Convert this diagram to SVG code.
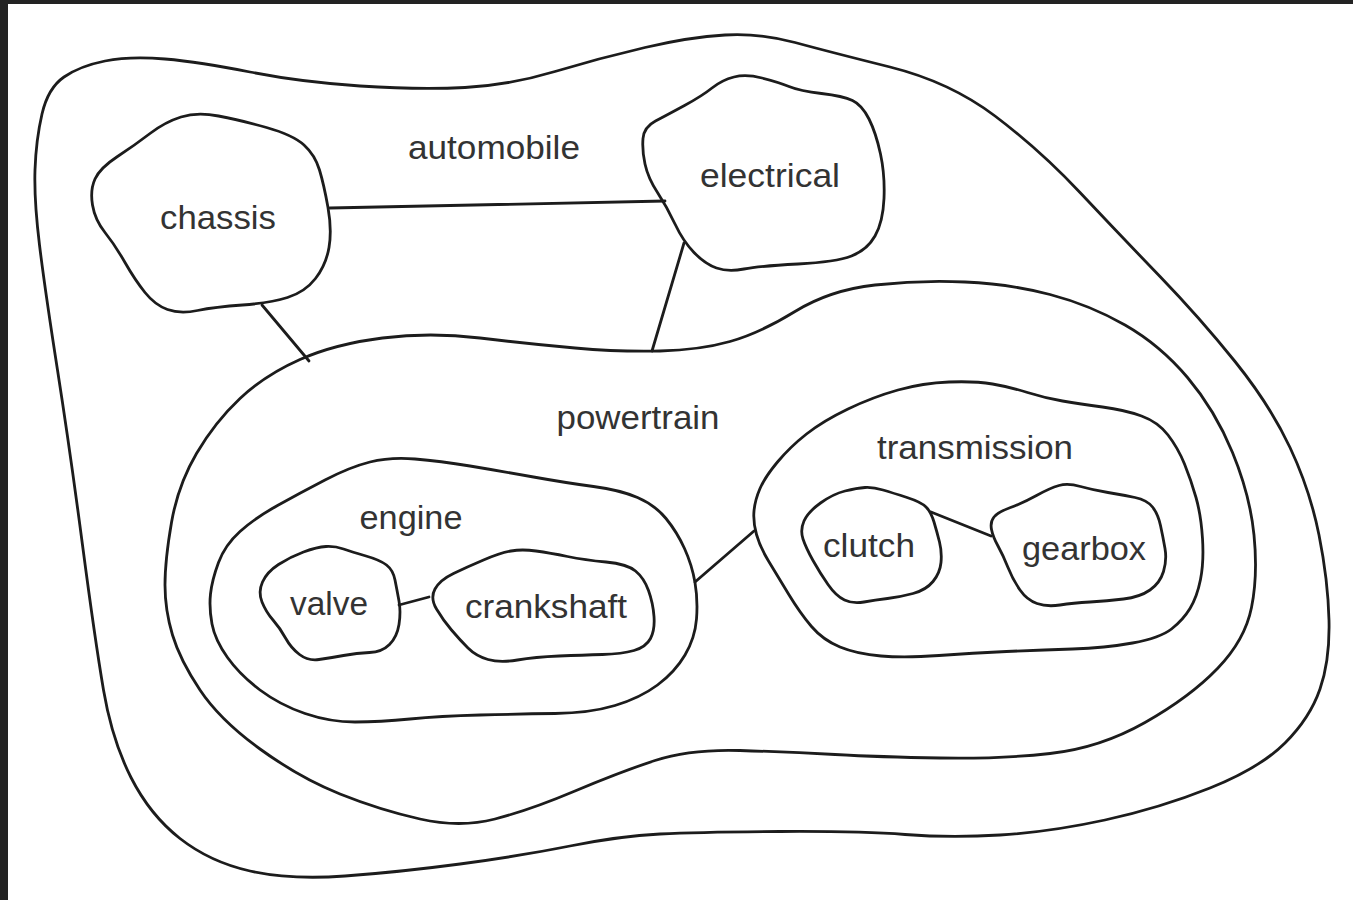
<svg xmlns="http://www.w3.org/2000/svg" width="1353" height="900" viewBox="0 0 1353 900">
  <style>
    .outline { fill: none; stroke: #1c1c1c; stroke-width: 2.8; stroke-linejoin: round; }
    .link { fill: none; stroke: #1c1c1c; stroke-width: 2.8; stroke-linecap: round; }
    .label { font-family: "Liberation Sans", Arial, Helvetica, sans-serif; font-size: 33px; fill: #333333; text-anchor: middle; }
    .frame { fill: #232323; }
  </style>

  <rect x="0" y="0" width="1353" height="900" fill="#ffffff"/>
  <!-- dark frame edges -->
  <rect class="frame" x="0" y="0" width="1353" height="4"/>
  <rect class="frame" x="0" y="0" width="8" height="900"/>

  <!-- automobile: outermost region -->
  <g id="automobile">
    <path class="outline" d="M 35,170 Q 36,140 42,114 Q 48,88 64,77 Q 80,66 105,61 Q 130,56 165,59 Q 200,62 250,72 Q 300,82 360,86 Q 420,90 465,87.5 Q 510,85 555,71.5 Q 600,58 645,47.5 Q 690,37 725,35 Q 760,33 795,42.5 Q 830,52 890,67 Q 950,82 995,116 Q 1040,150 1080,192.5 Q 1120,235 1160,276.5 Q 1200,318 1235,361.5 Q 1270,405 1290,447.5 Q 1310,490 1319,535 Q 1328,580 1329,620 Q 1330,660 1320,689 Q 1310,718 1285,743 Q 1260,768 1210,788 Q 1160,808 1105,820 Q 1050,832 1000,835 Q 950,838 905,834.5 Q 860,831 780,831.5 Q 700,832 660,834 Q 620,836 570,846 Q 520,856 460,864 Q 400,872 345,876 Q 290,880 250,871 Q 210,862 180,838.5 Q 150,815 131,777.5 Q 112,740 103.5,690 Q 95,640 82.5,545 Q 70,450 57.5,370 Q 45,290 39.5,245 Q 34,200 35,170 Z"/>
    <text class="label" x="494" y="159" textLength="172" lengthAdjust="spacingAndGlyphs">automobile</text>
  </g>

  <!-- connectors -->
  <g id="connectors">
    <line class="link" x1="330" y1="208" x2="665" y2="201"/>
    <line class="link" x1="262" y1="305" x2="309" y2="361"/>
    <line class="link" x1="684" y1="243" x2="652" y2="351"/>
    <line class="link" x1="399" y1="605" x2="429" y2="597"/>
    <line class="link" x1="695" y1="582" x2="754" y2="531"/>
    <line class="link" x1="931" y1="512" x2="991" y2="536"/>
  </g>

  <g id="chassis">
    <path class="outline" d="M 181,117 Q 197,112 218.5,116 Q 240,120 266.5,127.5 Q 293,135 304,145 Q 315,155 319.5,170 Q 324,185 328,207.5 Q 332,230 329,247.5 Q 326,265 315.5,278.5 Q 305,292 287.5,297.5 Q 270,303 242.5,305 Q 215,307 197.5,310.5 Q 180,314 167.5,309.5 Q 155,305 145,292.5 Q 135,280 125,262.5 Q 115,245 105,232.5 Q 95,220 92.5,205 Q 90,190 95,179 Q 100,168 117.5,156.5 Q 135,145 150,133.5 Q 165,122 181,117 Z"/>
    <text class="label" x="218" y="229" textLength="116" lengthAdjust="spacingAndGlyphs">chassis</text>
  </g>

  <g id="electrical">
    <path class="outline" d="M 643,138.5 Q 644,127 655.5,121 Q 667,115 684.5,105.5 Q 702,96 712,88 Q 722,80 734,77 Q 746,74 762,78 Q 778,82 789,86.5 Q 800,91 821.5,93.5 Q 843,96 852.5,100.5 Q 862,105 869,119 Q 876,133 880.5,154 Q 885,175 884,198.5 Q 883,222 875,236 Q 867,250 851.5,256 Q 836,262 798,264 Q 760,266 744,269 Q 728,272 716.5,268 Q 705,264 694,252.5 Q 683,241 675,224 Q 667,207 657.5,192.5 Q 648,178 645,164 Q 642,150 643,138.5 Z"/>
    <text class="label" x="770" y="187" textLength="140" lengthAdjust="spacingAndGlyphs">electrical</text>
  </g>

  <g id="powertrain">
    <path class="outline" d="M 165,585 Q 165,560 171.5,522.5 Q 178,485 196.5,453.5 Q 215,422 240,398.5 Q 265,375 300,359.5 Q 335,344 382.5,338 Q 430,332 480,338 Q 530,344 575,348 Q 620,352 660,351 Q 700,350 730,341.5 Q 760,333 795,311.5 Q 830,290 875,285 Q 920,280 965,282 Q 1010,284 1050,294.5 Q 1090,305 1125,325 Q 1160,345 1187.5,377.5 Q 1215,410 1232.5,452.5 Q 1250,495 1254,535 Q 1258,575 1251.5,607.5 Q 1245,640 1217.5,668.5 Q 1190,697 1145,722.5 Q 1100,748 1050,753.5 Q 1000,759 940,758 Q 880,757 835,754.5 Q 790,752 740,750.5 Q 690,749 655,760.5 Q 620,772 575,791 Q 530,810 495,819 Q 460,828 420,819 Q 380,810 340,794 Q 300,778 260,749 Q 220,720 200,690 Q 180,660 172.5,635 Q 165,610 165,585 Z"/>
    <text class="label" x="638" y="429" textLength="163" lengthAdjust="spacingAndGlyphs">powertrain</text>
  </g>

  <g id="engine">
    <path class="outline" d="M 210.5,594 Q 212,580 218.5,562.5 Q 225,545 240,531.5 Q 255,518 277.5,505.5 Q 300,493 325,480 Q 350,467 370,462 Q 390,457 415,459 Q 440,461 470,466 Q 500,471 533.5,477 Q 567,483 593.5,486.5 Q 620,490 637.5,497.5 Q 655,505 666,518.5 Q 677,532 684.5,548.5 Q 692,565 695,582.5 Q 698,600 696.5,619 Q 695,638 685,655 Q 675,672 657.5,685 Q 640,698 615,705.5 Q 590,713 555,713.5 Q 520,714 480,715 Q 440,716 410,719 Q 380,722 355,722 Q 330,722 305,713.5 Q 280,705 260,690 Q 240,675 227.5,657.5 Q 215,640 212,624 Q 209,608 210.5,594 Z"/>
    <text class="label" x="411" y="529" textLength="103" lengthAdjust="spacingAndGlyphs">engine</text>
  </g>

  <g id="valve">
    <path class="outline" d="M 326,546.5 Q 317,547 303.5,552 Q 290,557 278.5,564.5 Q 267,572 262.5,582 Q 258,592 262,602 Q 266,612 273,620 Q 280,628 285.5,638 Q 291,648 299.5,654.5 Q 308,661 319,659.5 Q 330,658 343.5,655.5 Q 357,653 369.5,652.5 Q 382,652 389.5,644.5 Q 397,637 399,624.5 Q 401,612 399,601 Q 397,590 395,580 Q 393,570 386.5,565 Q 380,560 366,556 Q 352,552 343.5,549 Q 335,546 326,546.5 Z"/>
    <text class="label" x="329" y="615" textLength="78" lengthAdjust="spacingAndGlyphs">valve</text>
  </g>

  <g id="crankshaft">
    <path class="outline" d="M 436.5,609 Q 430,598 435,589 Q 440,580 453.5,573.5 Q 467,567 483.5,560 Q 500,553 511,551 Q 522,549 536,551 Q 550,553 567.5,556.5 Q 585,560 606,562 Q 627,564 635.5,571 Q 644,578 648.5,590.5 Q 653,603 654,616.5 Q 655,630 650.5,638.5 Q 646,647 634,650.5 Q 622,654 602.5,654.5 Q 583,655 559,656 Q 535,657 517.5,660 Q 500,663 488,659.5 Q 476,656 468,648 Q 460,640 451.5,630 Q 443,620 436.5,609 Z"/>
    <text class="label" x="546" y="618" textLength="162" lengthAdjust="spacingAndGlyphs">crankshaft</text>
  </g>

  <g id="transmission">
    <path class="outline" d="M 756.5,534.5 Q 753,522 754,511 Q 755,500 760,488.5 Q 765,477 777.5,462 Q 790,447 806.5,434 Q 823,421 848,409 Q 873,397 898,390 Q 923,383 949,382 Q 975,381 992.5,384 Q 1010,387 1027.5,392.5 Q 1045,398 1062.5,401 Q 1080,404 1102.5,407 Q 1125,410 1141.5,416 Q 1158,422 1168,435 Q 1178,448 1184.5,464 Q 1191,480 1196,497.5 Q 1201,515 1202.5,538.5 Q 1204,562 1200.5,579.5 Q 1197,597 1190,608.5 Q 1183,620 1171.5,629 Q 1160,638 1132.5,643 Q 1105,648 1072.5,649 Q 1040,650 1006.5,651.5 Q 973,653 939,655.5 Q 905,658 881,656 Q 857,654 840,647 Q 823,640 811.5,626.5 Q 800,613 788.5,594 Q 777,575 768.5,561 Q 760,547 756.5,534.5 Z"/>
    <text class="label" x="975" y="459" textLength="196" lengthAdjust="spacingAndGlyphs">transmission</text>
  </g>

  <g id="clutch">
    <path class="outline" d="M 865,487.5 Q 857,488 845,491 Q 833,494 820.5,503 Q 808,512 804,521 Q 800,530 803,539 Q 806,548 813,560.5 Q 820,573 828,584.5 Q 836,596 844.5,600 Q 853,604 864,602 Q 875,600 887.5,598.5 Q 900,597 913,593.5 Q 926,590 933,581.5 Q 940,573 941,562.5 Q 942,552 939.5,542 Q 937,532 934,522 Q 931,512 926,507 Q 921,502 907,497.5 Q 893,493 883,490 Q 873,487 865,487.5 Z"/>
    <text class="label" x="869" y="557" textLength="92" lengthAdjust="spacingAndGlyphs">clutch</text>
  </g>

  <g id="gearbox">
    <path class="outline" d="M 991.5,529.5 Q 990,522 994,517 Q 998,512 1010.5,507.5 Q 1023,503 1036.5,495.5 Q 1050,488 1059,485.5 Q 1068,483 1080.5,486.5 Q 1093,490 1108,492.5 Q 1123,495 1135,497.5 Q 1147,500 1152.5,507 Q 1158,514 1160.5,525.5 Q 1163,537 1165,548.5 Q 1167,560 1163.5,571.5 Q 1160,583 1150,590 Q 1140,597 1123.5,599 Q 1107,601 1090,602 Q 1073,603 1060,605 Q 1047,607 1037,603.5 Q 1027,600 1020,590 Q 1013,580 1008,567.5 Q 1003,555 998,546 Q 993,537 991.5,529.5 Z"/>
    <text class="label" x="1084" y="560" textLength="124" lengthAdjust="spacingAndGlyphs">gearbox</text>
  </g>
</svg>
